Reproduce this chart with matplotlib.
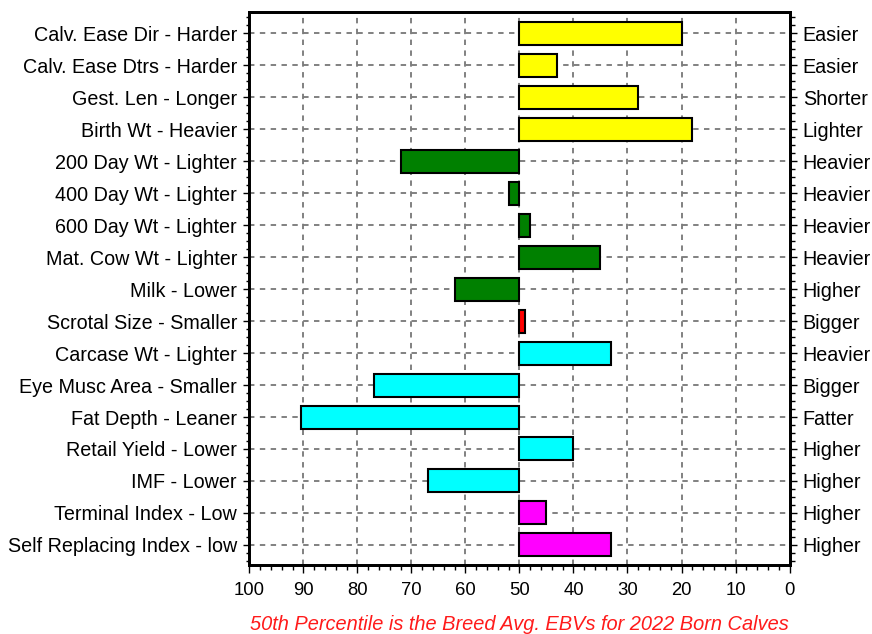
import numpy as np
from matplotlib import pyplot as plt
from matplotlib.ticker import MultipleLocator, FixedLocator

plt.rcParams['font.family'] = ['Liberation Sans', 'DejaVu Sans']

left_labels = ['Calv. Ease Dir - Harder', 'Calv. Ease Dtrs - Harder', 'Gest. Len - Longer',
               'Birth Wt - Heavier', '200 Day Wt - Lighter', '400 Day Wt - Lighter',
               '600 Day Wt - Lighter', 'Mat. Cow Wt - Lighter', 'Milk - Lower',
               'Scrotal Size - Smaller', 'Carcase Wt - Lighter', 'Eye Musc Area - Smaller',
               'Fat Depth - Leaner', 'Retail Yield - Lower', 'IMF - Lower',
               'Terminal Index - Low', 'Self Replacing Index - low']
right_labels = ['Easier', 'Easier', 'Shorter', 'Lighter', 'Heavier', 'Heavier', 'Heavier',
                'Heavier', 'Higher', 'Bigger', 'Heavier', 'Bigger', 'Fatter', 'Higher',
                'Higher', 'Higher', 'Higher']
percentiles = [20, 43, 28, 18, 72, 52, 48, 35, 62, 49, 33, 77, 90.5, 40, 67, 45, 33]
colors = ['#ffff00'] * 4 + ['#008000'] * 5 + ['#ff0000'] + ['#00ffff'] * 5 + ['#ff00ff'] * 2
breed_avg = 50

fig = plt.figure(figsize=(8.72, 6.34), dpi=100)
ax = fig.add_axes([0.2861, 0.1088, 0.6193, 0.8718])

y = np.arange(len(left_labels))
widths = [p - breed_avg for p in percentiles]
ax.barh(y, widths, left=breed_avg, height=0.72, color=colors, edgecolor='black',
        linewidth=1.5, zorder=3)

ax.set_xlim(100, 0)
ax.set_ylim(16.63, -0.66)
ax.xaxis.set_major_locator(MultipleLocator(10))
ax.xaxis.set_minor_locator(MultipleLocator(2))
ax.set_yticks(y)
ax.set_yticklabels(left_labels)
ax.yaxis.set_minor_locator(FixedLocator(np.arange(-0.5, 16.6, 0.25)))

ax.grid(True, which='major', color='#777777', linestyle=(0, (3, 3)), linewidth=1.3)
ax.set_axisbelow(True)

for s in ax.spines.values():
    s.set_linewidth(2)

ax.tick_params(axis='x', which='major', direction='out', length=6, width=1, pad=6, labelsize=13.3)
ax.tick_params(axis='x', which='minor', direction='out', length=3.5, width=1)
ax.tick_params(axis='y', which='major', direction='out', length=4, width=1, pad=5, labelsize=14.2)
ax.tick_params(axis='y', which='minor', direction='out', length=2.5, width=1)

ax2 = ax.twinx()
ax2.set_ylim(ax.get_ylim())
ax2.set_yticks(y)
ax2.set_yticklabels(right_labels)
ax2.yaxis.set_minor_locator(FixedLocator(np.arange(-0.5, 16.6, 0.25)))
ax2.tick_params(axis='y', which='major', direction='out', length=5, width=1, pad=4.5, labelsize=14.2)
ax2.tick_params(axis='y', which='minor', direction='out', length=3.5, width=1)
for s in ax2.spines.values():
    s.set_linewidth(2)

ax.text(0.5, -0.107, '50th Percentile is the Breed Avg. EBVs for 2022 Born Calves',
        transform=ax.transAxes, ha='center', va='center', color='#ff1a1a',
        fontsize=14.4, style='italic')

plt.savefig('out.png', dpi=100)
